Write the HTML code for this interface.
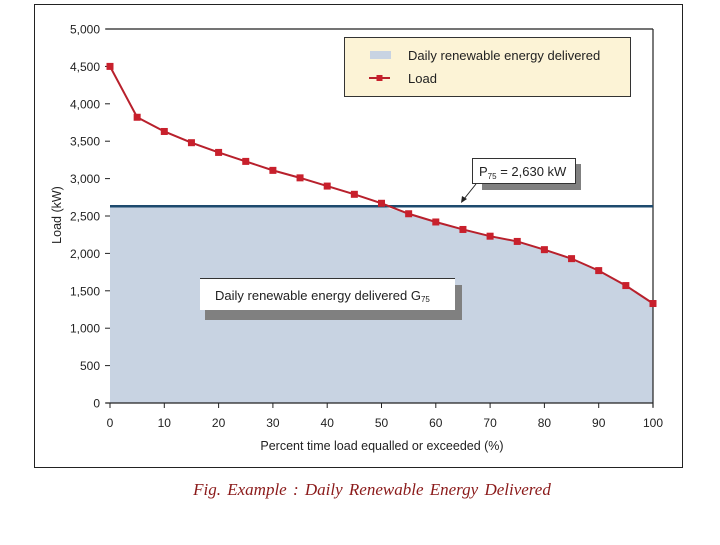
<!DOCTYPE html>
<html><head><meta charset="utf-8"><style>
body{margin:0;background:#fff;width:720px;height:540px;overflow:hidden}
svg text{font-family:"Liberation Sans",sans-serif;fill:#222}
</style></head><body>
<svg width="720" height="540">
<rect x="34.5" y="4.5" width="648" height="463" fill="none" stroke="#222"/>
<g id="plot"></g>
<text x="372" y="495" text-anchor="middle" style="font-family:'Liberation Serif',serif;font-style:italic;font-size:17px;word-spacing:2px;fill:#8b1a1a">Fig.  Example : Daily Renewable Energy Delivered</text>
</svg>
<script>
const xs=[0,5,10,15,20,25,30,35,40,45,50,55,60,65,70,75,80,85,90,95,100];
const load=[4500,3820,3630,3480,3350,3230,3110,3010,2900,2790,2670,2530,2420,2320,2230,2160,2050,1930,1770,1570,1330];
const p75=2630;
const yTicks=[0,500,1000,1500,2000,2500,3000,3500,4000,4500,5000];
const yLabels=["0","500","1,000","1,500","2,000","2,500","3,000","3,500","4,000","4,500","5,000"];
const xTicks=[0,10,20,30,40,50,60,70,80,90,100];
const X=v=>110+v*5.43, Y=v=>403-v*0.0748;
const NS="http://www.w3.org/2000/svg", g=document.getElementById('plot');
function mk(t,a,txt){const e=document.createElementNS(NS,t);for(const k in a)e.setAttribute(k,a[k]);if(txt!=null)e.textContent=txt;g.appendChild(e);return e;}
let pts=xs.map((x,i)=>X(x)+','+Y(Math.min(load[i],p75)));
let f=mk('polygon',{points:X(0)+','+Y(0)+' '+pts.join(' ')+' '+X(100)+','+Y(0),fill:'#c8d3e2'});


let a=mk('line',{x1:106,y1:Y(5000),x2:653,y2:Y(5000),stroke:'#222','stroke-width':1.2});


a=mk('line',{x1:653,y1:Y(5000),x2:653,y2:407,stroke:'#222','stroke-width':1.2});


a=mk('line',{x1:106,y1:Y(0),x2:653,y2:Y(0),stroke:'#222','stroke-width':1.2});


yTicks.forEach((v,i)=>{
 let t=mk('line',{x1:105,y1:Y(v),x2:110,y2:Y(v),stroke:'#222'});
 
 
 let l=mk('text',{x:100,y:Y(v)+4.5,'text-anchor':'end','font-size':12},yLabels[i]);
 
 
});
xTicks.forEach(v=>{
 let t=mk('line',{x1:X(v),y1:Y(0),x2:X(v),y2:Y(0)+5,stroke:'#222'});
 
 
 let l=mk('text',{x:X(v),y:427,'text-anchor':'middle','font-size':12},String(v));
 
 
});
let t=mk('text',{x:382,y:450,'text-anchor':'middle','font-size':12.5},'Percent time load equalled or exceeded (%)');


t=mk('text',{x:0,y:0,'text-anchor':'middle','font-size':12.5,transform:'translate(61,215) rotate(-90)'},'Load (kW)');


let p=mk('line',{x1:X(0),y1:Y(p75),x2:X(100),y2:Y(p75),stroke:'#1d4a6e','stroke-width':2.5});


let ln=mk('polyline',{points:xs.map((x,i)=>X(x)+','+Y(load[i])).join(' '),fill:'none',stroke:'#b8202c','stroke-width':2});


xs.forEach((x,i)=>{
 let m=mk('rect',{x:X(x)-3.5,y:Y(load[i])-3.5,width:7,height:7,fill:'#c8202c'});
 
 
});
let s=mk('rect',{x:205,y:285,width:257,height:35,fill:'#808080'});


s=mk('rect',{x:200,y:278,width:255,height:32,fill:'#fff'});


s=mk('line',{x1:200,y1:278.5,x2:455,y2:278.5,stroke:'#333'});


let tx=mk('text',{x:215,y:300,'font-size':13},'Daily renewable energy delivered G');


let sub=document.createElementNS(NS,'tspan');sub.setAttribute('font-size',8);sub.setAttribute('dy',2);sub.textContent='75';tx.appendChild(sub);
s=mk('rect',{x:482,y:164,width:99,height:26,fill:'#808080'});


s=mk('rect',{x:472.5,y:158.5,width:103,height:25,fill:'#fff',stroke:'#333'});


tx=mk('text',{x:479,y:176,'font-size':13},'P');


sub=document.createElementNS(NS,'tspan');sub.setAttribute('font-size',8);sub.setAttribute('dy',3);sub.textContent='75';tx.appendChild(sub);
let r=document.createElementNS(NS,'tspan');r.setAttribute('dy',-3);r.textContent=' = 2,630 kW';tx.appendChild(r);
s=mk('line',{x1:476,y1:184,x2:464,y2:199,stroke:'#222'});


s=mk('polygon',{points:'461,203 462,196 467,199',fill:'#222'});


s=mk('rect',{x:344.5,y:37.5,width:286,height:59,fill:'#fcf3d6',stroke:'#333'});


s=mk('rect',{x:370,y:51,width:21,height:8,fill:'#c8d3e2'});


s=mk('text',{x:408,y:60,'font-size':13},'Daily renewable energy delivered');


s=mk('line',{x1:369,y1:78,x2:390,y2:78,stroke:'#b8202c','stroke-width':2});


s=mk('rect',{x:376.5,y:75,width:6,height:6,fill:'#c8202c'});


s=mk('text',{x:408,y:83,'font-size':13},'Load');


</script>
</body></html>
